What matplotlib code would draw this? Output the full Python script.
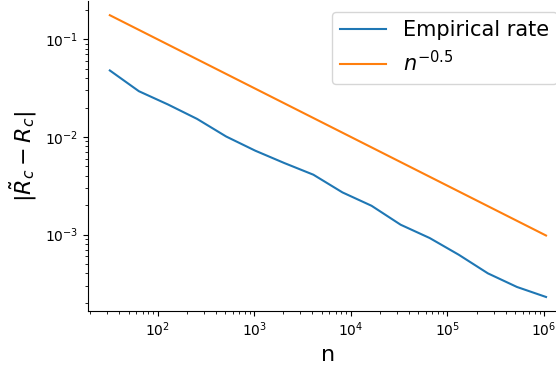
import numpy as np
import matplotlib
matplotlib.use("Agg")
import matplotlib.pyplot as plt

# sample sizes n = 2^5 ... 2^20
n_values = [2 ** k for k in range(5, 21)]
empirical_rate = [0.048, 0.0294, 0.0215, 0.0153, 0.0101, 0.00723, 0.0054, 0.0041,
                  0.0027, 0.00197, 0.00126, 0.00092, 0.00062, 0.00040, 0.00029, 0.000229]
reference_rate = [n ** -0.5 for n in n_values]

fig = plt.figure(figsize=(5.56, 3.69), dpi=100)
ax = fig.add_axes([0.1583, 0.157, 0.863, 0.840])

ax.plot(n_values, empirical_rate, label="Empirical rate")
ax.plot(n_values, reference_rate, label=r"$n^{-0.5}$")
ax.set_xscale("log")
ax.set_yscale("log")

ax.spines["top"].set_visible(False)
ax.spines["right"].set_visible(False)

ax.set_xlabel("n", fontsize=16)
ax.set_ylabel(r"$|\tilde{R}_c - R_c|$", fontsize=16)
ax.legend(loc="upper right", fontsize=15, handlelength=2.2)

fig.savefig("out.png", dpi=100)
